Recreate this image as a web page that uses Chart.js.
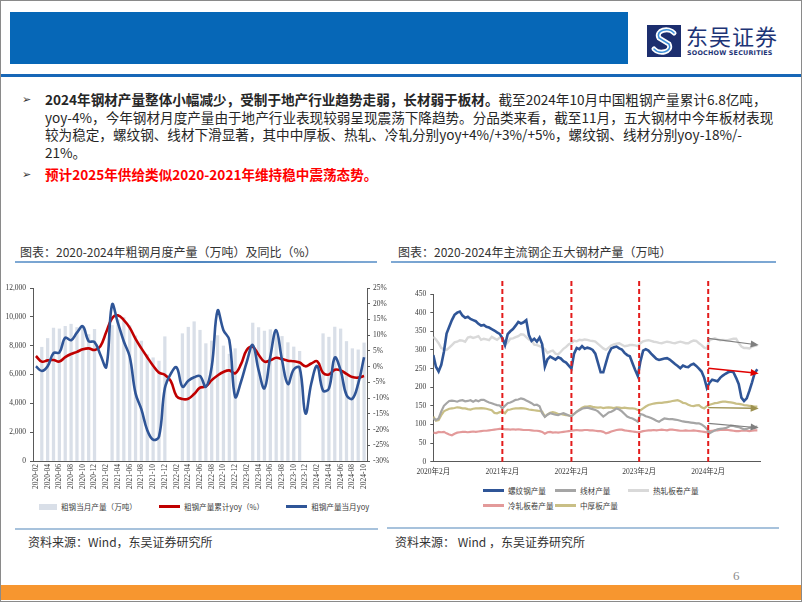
<!DOCTYPE html>
<html lang="zh-CN">
<head>
<meta charset="utf-8">
<title>粗钢及五大钢材产量</title>
<script src="https://cdn.jsdelivr.net/npm/chart.js@4.4.1/dist/chart.umd.min.js"></script>
<style>
  html, body { margin: 0; padding: 0; background: #fff; }
  body { width: 802px; height: 602px; position: relative; overflow: hidden;
         font-family: "Noto Sans CJK SC", "Noto Sans", sans-serif; color: #262626; }
  .abs { position: absolute; }
  #frame { left: 0; top: 0; width: 800px; height: 600px; border: 1px solid #8a8a8a; }
  #banner { left: 10px; top: 12px; width: 618px; height: 52px; background: #0667b7; }
  #rule { left: 1px; top: 74px; width: 800px; height: 3px; background: #1767b7; }
  #logoText { left: 686px; top: 22px; font-size: 22px; color: #1d3476; letter-spacing: 1px; line-height: 26px; }
  #logoSub { left: 687px; top: 49px; font-family: "DejaVu Sans", sans-serif; font-size: 6.4px; font-weight: bold; color: #1d3476; letter-spacing: 0.2px; }
  .para { left: 22px; width: 775px; font-size: 13.6px; line-height: 17.7px; white-space: nowrap; }
  .para .bullet { position: absolute; left: 0; top: 0; font-family: "DejaVu Sans", sans-serif; font-size: 11px; color: #333; }
  .para .txt { margin-left: 23px; }
  .red { color: #ff0000; font-weight: bold; }
  .title { font-size: 12px; color: #333; white-space: nowrap; }
  .titleRule { height: 2px; background: linear-gradient(to right, #7fa9d4, #4f86c0 50%, #7fa9d4); }
  .srcRule { height: 2px; background: #a7c2dc; }
  .src { font-size: 12px; color: #333; white-space: nowrap; }
  #pageNo { left: 733px; top: 568px; font-family: "Liberation Serif", serif; font-size: 13px; color: #8c8c8c; }
  #footer { left: 1px; top: 585px; width: 800px; height: 15px; background: #f7962f; }
  .legend { font-size: 7.6px; color: #404040; white-space: nowrap; }
  .legend .item { display: flex; align-items: center; }
  .legend .sw { display: inline-block; margin-right: 4px; }
  #legendLeft { left: 39px; top: 501px; display: flex; gap: 22px; }
  #legendRight { left: 483px; top: 485px; display: grid; grid-template-columns: 72px 73px auto; row-gap: 4px; }
</style>
</head>
<body>
<div id="frame" class="abs"></div>
<div id="banner" class="abs"></div>
<canvas id="logoMark" class="abs" width="34" height="32" style="left:647px;top:25px"></canvas>
<div id="logoText" class="abs">东吴证券</div>
<div id="logoSub" class="abs">SOOCHOW SECURITIES</div>
<div id="rule" class="abs"></div>

<div class="abs para" style="top:91px">
  <span class="bullet">➢</span>
  <div class="txt"><b>2024年钢材产量整体小幅减少，受制于地产行业趋势走弱，长材弱于板材。</b>截至2024年10月中国粗钢产量累计6.8亿吨，<br>yoy-4%，今年钢材月度产量由于地产行业表现较弱呈现震荡下降趋势。分品类来看，截至11月，五大钢材中今年板材表现<br>较为稳定，螺纹钢、线材下滑显著，其中中厚板、热轧、冷轧分别yoy+4%/+3%/+5%，螺纹钢、线材分别yoy-18%/-<br>21%。</div>
</div>
<div class="abs para" style="top:166px">
  <span class="bullet">➢</span>
  <div class="txt red">预计2025年供给类似2020-2021年维持稳中震荡态势。</div>
</div>

<div class="abs title" style="left:20px;top:243px">图表：2020-2024年粗钢月度产量（万吨）及同比（%）</div>
<div class="abs title" style="left:398px;top:243px">图表：2020-2024年主流钢企五大钢材产量（万吨）</div>
<div class="abs titleRule" style="left:15px;top:261px;width:362px"></div>
<div class="abs titleRule" style="left:391px;top:261px;width:385px"></div>

<canvas id="steelChart" class="abs" width="392" height="222" style="left:0;top:278px"></canvas>
<canvas id="productChart" class="abs" width="408" height="202" style="left:392px;top:278px"></canvas>
<div id="legendLeft" class="abs legend"></div>
<div id="legendRight" class="abs legend"></div>

<div class="abs srcRule" style="left:15px;top:528px;width:363px"></div>
<div class="abs srcRule" style="left:387px;top:527px;width:392px"></div>
<div class="abs src" style="left:28px;top:533px">资料来源：Wind，东吴证券研究所</div>
<div class="abs src" style="left:395px;top:533px">资料来源： Wind ，东吴证券研究所</div>
<div id="pageNo" class="abs">6</div>
<div id="footer" class="abs"></div>

<script>
// ---- left chart: crude steel monthly output and yoy ----
const months = [
  "2020-02", "2020-03", "2020-04", "2020-05", "2020-06", "2020-07", "2020-08", "2020-09", "2020-10", "2020-11", "2020-12",
  "2021-01", "2021-02", "2021-03", "2021-04", "2021-05", "2021-06", "2021-07", "2021-08", "2021-09", "2021-10", "2021-11", "2021-12",
  "2022-01", "2022-02", "2022-03", "2022-04", "2022-05", "2022-06", "2022-07", "2022-08", "2022-09", "2022-10", "2022-11", "2022-12",
  "2023-01", "2023-02", "2023-03", "2023-04", "2023-05", "2023-06", "2023-07", "2023-08", "2023-09", "2023-10", "2023-11", "2023-12",
  "2024-01", "2024-02", "2024-03", "2024-04", "2024-05", "2024-06", "2024-07", "2024-08", "2024-09", "2024-10"
];
// 万吨, Jan/Feb not reported separately
const monthlyOutput = [
  null, 7890, 8500, 9220, 9160, 9340, 9490, 9260, 9220, 8770, 9130,
  null, null, 9400, 9790, 9950, 9390, 8680, 8320, 7380, 7160, 6930, 8620,
  null, null, 8830, 9280, 9660, 9070, 8140, 8330, 8700, 7980, 7410, 7790,
  null, null, 9570, 9260, 9010, 9110, 9080, 8640, 8210, 7910, 7610, null,
  null, null, 8830, 8590, 9290, 9160, 8290, 7790, 7710, 8190
];
// cumulative yoy, %
const cumulativeYoy = [
  3.4, 1.6, 2.0, 2.1, 1.6, 3.0, 4.0, 4.7, 5.5, 5.8, 5.3,
  6.5, 11.0, 15.4, 16.3, 14.8, 12.4, 8.8, 5.8, 3.0, 0.3, -1.9, -2.6,
  -4.5, -9.4, -10.3, -10.2, -8.7, -6.7, -6.3, -4.3, -2.8, -1.7, -1.2, -2.1,
  0.8, 5.4, 6.3, 3.8, 1.6, 2.0, 2.8, 2.4, 1.9, 1.7, 1.3, 0.1,
  1.0, 1.7, -2.0, -2.5, -1.0, -1.2, -2.3, -3.3, -3.5, -3.0
];
// monthly yoy, %
const monthlyYoy = [
  0.1, -1.4, 0.1, 4.3, 4.5, 9.2, 8.4, 10.8, 12.8, 8.1, 7.8,
  3.8, -0.1, 19.7, 13.8, 8.0, 3.2, -8.5, -13.6, -20.2, -23.2, -22.3, -6.9,
  -2.3, -0.2, -6.4, -4.5, -3.4, -3.0, -6.4, 0.0, 17.8, 11.6, 8.5, -9.6,
  -4.8, 1.6, 6.9, -1.1, -6.9, 3.2, 11.6, 2.1, -5.5, -0.9, -0.3, -14.9,
  -5.3, 0.2, -7.6, -7.0, 2.9, -1.2, -9.0, -10.2, -5.4, 3.0
];

// ---- right chart: five major steel products, sampled every 2 weeks from Feb 2020 ----
const weekStep = 2;
const yearTicks = [0, 52, 104, 155, 207];
const yearTickLabels = ["2020年2月", "2021年2月", "2022年2月", "2023年2月", "2024年2月"];
const rebar = [
  286, 255, 242, 260, 295, 344, 362, 380, 394, 400,
  403, 392, 386, 389, 383, 380, 377, 370, 365, 367,
  362, 360, 356, 352, 347, 343, 332, 313, 342, 350,
  356, 365, 375, 371, 374, 380, 340, 324, 330, 322,
  333, 315, 255, 275, 282, 278, 274, 280, 277, 270,
  266, 258, 250, 290, 305, 302, 310, 303, 306, 304,
  300, 290, 265, 240, 240, 265, 290, 304, 307, 309,
  304, 301, 292, 286, 283, 264, 246, 230, 270, 298,
  302, 298, 290, 283, 276, 273, 275, 277, 278, 274,
  268, 262, 257, 251, 258, 255, 254, 260, 263, 257,
  250, 242, 225, 198, 212, 220, 218, 216, 225, 231,
  236, 240, 242, 240, 225, 208, 172, 163, 170, 190,
  213, 238, 248
];
const wireRod = [
  116, 112, 116, 135, 150, 157, 163, 164, 163, 161,
  164, 165, 162, 163, 165, 161, 165, 162, 166, 166,
  162, 159, 157, 154, 152, 151, 143, 150, 157, 159,
  162, 166, 167, 170, 168, 164, 161, 157, 152, 153,
  149, 130, 120, 126, 130, 128, 126, 125, 128, 130,
  127, 124, 122, 128, 134, 138, 142, 144, 145, 143,
  141, 139, 135, 128, 121, 126, 132, 134, 138, 143,
  140, 135, 128, 121, 118, 116, 112, 107, 128, 126,
  122, 120, 117, 114, 110, 107, 112, 116, 115, 114,
  114, 113, 112, 110, 108, 107, 106, 105, 104, 103,
  103, 100, 95, 88, 76, 80, 84, 87, 88, 89,
  90, 93, 97, 96, 94, 93, 90, 87, 88, 91,
  92, 93, 94
];
const hotRolled = [
  335, 328, 318, 305, 302, 300, 306, 313, 320, 322,
  326, 325, 322, 333, 335, 332, 334, 337, 327, 330,
  328, 326, 335, 331, 327, 333, 330, 313, 320, 330,
  331, 334, 337, 342, 341, 334, 328, 325, 314, 313,
  310, 307, 302, 292, 296, 298, 290, 288, 295, 303,
  308, 315, 318, 325, 323, 327, 326, 328, 327, 325,
  324, 322, 316, 310, 304, 300, 306, 312, 315, 317,
  318, 314, 310, 311, 313, 313, 312, 310, 318, 323,
  325, 326, 324, 322, 321, 319, 318, 320, 322, 321,
  319, 318, 320, 322, 320, 318, 318, 322, 325, 324,
  318, 313, 306, 304, 326, 329, 331, 328, 326, 327,
  326, 326, 328, 330, 330, 318, 309, 305, 305, 304,
  309, 311, 312
];
const coldRolled = [
  78, 77, 80, 79, 80, 76, 73, 71, 75, 78,
  79, 80, 80, 79, 80, 81, 80, 81, 82, 83,
  83, 84, 85, 86, 87, 88, 88, 87, 87, 86,
  87, 86, 87, 86, 85, 85, 85, 84, 83, 83,
  82, 80, 75, 79, 80, 78, 79, 78, 79, 80,
  81, 82, 83, 84, 85, 84, 84, 85, 85, 84,
  84, 83, 82, 82, 80, 76, 78, 81, 83, 85,
  86, 86, 84, 83, 82, 81, 80, 79, 80, 82,
  83, 84, 84, 85, 84, 85, 86, 85, 84, 86,
  86, 85, 84, 83, 83, 84, 83, 83, 84, 83,
  82, 81, 80, 79, 82, 83, 84, 84, 85, 85,
  86, 85, 84, 83, 82, 82, 83, 84, 83, 82,
  83, 84, 84
];
const mediumPlate = [
  121, 110, 112, 125, 135, 139, 142, 143, 144, 146,
  145, 143, 143, 141, 140, 142, 143, 143, 144, 143,
  142, 140, 138, 131, 130, 133, 134, 130, 139, 140,
  142, 143, 143, 144, 143, 142, 140, 139, 138, 137,
  136, 134, 121, 127, 131, 133, 131, 128, 128, 126,
  125, 124, 123, 128, 134, 140, 145, 148, 148, 149,
  147, 146, 145, 146, 144, 145, 146, 145, 144, 146,
  145, 144, 145, 144, 143, 143, 142, 139, 138, 143,
  148, 152, 154, 156, 157, 158, 158, 159, 160, 161,
  163, 164, 165, 162, 158, 157, 153, 150, 149, 151,
  152, 146, 143, 149, 153, 155, 157, 158, 160, 161,
  161, 160, 159, 158, 156, 155, 154, 152, 151, 150,
  149, 148, 148
];
// trend arrows drawn in 2024, in data units [week, 万吨]
const trendArrows = [
  { from: [207, 331], to: [245, 313], color: "#7f7f7f", width: 1.2 },
  { from: [207, 251], to: [245, 237], color: "#e00000", width: 1.5 },
  { from: [207, 145], to: [245, 143], color: "#9c9150", width: 1.4 },
  { from: [207, 103], to: [245, 91], color: "#7f7f7f", width: 1.2 }
];

Chart.defaults.font.family = "'Liberation Serif', 'Noto Sans CJK SC', serif";
Chart.defaults.font.size = 7.5;
Chart.defaults.color = "#3a3a3a";

function toPoints(values) {
  return values.map((v, i) => ({ x: i * weekStep, y: v }));
}

const yearMarksPlugin = {
  id: "yearMarks",
  afterDatasetsDraw(chart) {
    const { ctx, chartArea, scales } = chart;
    ctx.save();
    ctx.strokeStyle = "#e31b1b";
    ctx.lineWidth = 2;
    ctx.setLineDash([5, 3]);
    yearTicks.slice(1).forEach(function (w) {
      const x = scales.x.getPixelForValue(w);
      ctx.beginPath();
      ctx.moveTo(x, chartArea.top - 13);
      ctx.lineTo(x, chartArea.bottom);
      ctx.stroke();
    });
    ctx.setLineDash([]);
    trendArrows.forEach(function (a) {
      const x1 = scales.x.getPixelForValue(a.from[0]), y1 = scales.y.getPixelForValue(a.from[1]);
      const x2 = scales.x.getPixelForValue(a.to[0]), y2 = scales.y.getPixelForValue(a.to[1]);
      const ang = Math.atan2(y2 - y1, x2 - x1);
      const c = Math.cos(ang), s = Math.sin(ang);
      ctx.strokeStyle = a.color;
      ctx.fillStyle = a.color;
      ctx.lineWidth = a.width;
      ctx.beginPath();
      ctx.moveTo(x1, y1);
      ctx.lineTo(x2 - 6 * c, y2 - 6 * s);
      ctx.stroke();
      ctx.beginPath();
      ctx.moveTo(x2, y2);
      ctx.lineTo(x2 - 8 * c + 3.5 * s, y2 - 8 * s - 3.5 * c);
      ctx.lineTo(x2 - 8 * c - 3.5 * s, y2 - 8 * s + 3.5 * c);
      ctx.closePath();
      ctx.fill();
    });
    ctx.restore();
  }
};

const axisColor = "#595959";

const steelChart = new Chart(document.getElementById("steelChart"), {
  type: "bar",
  data: {
    labels: months,
    datasets: [
      { label: "粗钢当月产量（万吨）", data: monthlyOutput, backgroundColor: "#d9dfe8", barThickness: 2.6, yAxisID: "y", order: 3 },
      { type: "line", label: "粗钢产量累计yoy（%）", data: cumulativeYoy, borderColor: "#c00000", backgroundColor: "#c00000",
        borderWidth: 2.6, pointRadius: 0, tension: 0.4, yAxisID: "y1", order: 2 },
      { type: "line", label: "粗钢产量当月yoy", data: monthlyYoy, borderColor: "#2f5597", backgroundColor: "#2f5597",
        borderWidth: 2.6, pointRadius: 0, tension: 0.4, yAxisID: "y1", order: 1 }
    ]
  },
  options: {
    responsive: false,
    animation: false,
    layout: { padding: { top: 10, right: 0, bottom: 0, left: 0 } },
    plugins: { legend: { display: false }, tooltip: { enabled: false } },
    scales: {
      x: {
        grid: { display: false, drawTicks: false },
        border: { color: axisColor },
        ticks: {
          autoSkip: false, minRotation: 90, maxRotation: 90, padding: 3,
          callback: function (v, i) { return i % 2 === 0 ? this.getLabelForValue(v) : ""; }
        },
        afterFit: function (s) { s.height = 39; }
      },
      y: {
        position: "left", min: 0, max: 12000,
        ticks: { stepSize: 2000, padding: 4, callback: v => v.toLocaleString("en-US") },
        grid: { drawOnChartArea: false, tickLength: 3, color: axisColor },
        border: { color: axisColor },
        afterFit: function (s) { s.width = 33; }
      },
      y1: {
        position: "right", min: -30, max: 25,
        ticks: { stepSize: 5, padding: 3, callback: v => v + "%" },
        grid: { drawOnChartArea: false, tickLength: 3, color: axisColor },
        border: { color: axisColor },
        afterFit: function (s) { s.width = 25; }
      }
    }
  }
});

const productChart = new Chart(document.getElementById("productChart"), {
  type: "line",
  data: {
    datasets: [
      { label: "螺纹钢产量", data: toPoints(rebar), borderColor: "#2f5597", borderWidth: 2.6 },
      { label: "线材产量", data: toPoints(wireRod), borderColor: "#a5a5a5", borderWidth: 2.2 },
      { label: "热轧板卷产量", data: toPoints(hotRolled), borderColor: "#d9d9d9", borderWidth: 2.4 },
      { label: "冷轧板卷产量", data: toPoints(coldRolled), borderColor: "#e39a9a", borderWidth: 2.2 },
      { label: "中厚板产量", data: toPoints(mediumPlate), borderColor: "#c9bf86", borderWidth: 2.2 }
    ]
  },
  options: {
    responsive: false,
    animation: false,
    elements: { point: { radius: 0 }, line: { tension: 0 } },
    layout: { padding: { top: 16, right: 40, bottom: 0, left: 0 } },
    plugins: { legend: { display: false }, tooltip: { enabled: false } },
    scales: {
      x: {
        type: "linear", min: 0, max: 246,
        afterBuildTicks: function (s) { s.ticks = yearTicks.map(v => ({ value: v })); },
        ticks: { padding: 6, autoSkip: false, maxRotation: 0, callback: (v, i) => yearTickLabels[i] },
        grid: { display: false, drawTicks: false },
        border: { color: axisColor },
        afterFit: function (s) { s.height = 18.3; }
      },
      y: {
        min: 0, max: 450,
        ticks: { stepSize: 50, padding: 4 },
        grid: { drawOnChartArea: false, tickLength: 3, color: axisColor },
        border: { color: axisColor },
        afterFit: function (s) { s.width = 41.3; }
      }
    }
  },
  plugins: [yearMarksPlugin]
});

function buildLegend(chart, el) {
  chart.data.datasets.forEach(function (ds) {
    const item = document.createElement("div");
    item.className = "item";
    const sw = document.createElement("span");
    sw.className = "sw";
    const isBar = (ds.type || chart.config.type) === "bar";
    sw.style.width = isBar ? "18px" : "21px";
    sw.style.height = isBar ? "6px" : (ds.borderWidth > 2.5 ? "3.5px" : "3px");
    sw.style.background = isBar ? ds.backgroundColor : ds.borderColor;
    const tx = document.createElement("span");
    tx.textContent = ds.label;
    item.appendChild(sw);
    item.appendChild(tx);
    el.appendChild(item);
  });
}
buildLegend(steelChart, document.getElementById("legendLeft"));
buildLegend(productChart, document.getElementById("legendRight"));

// logo mark
(function () {
  const ctx = document.getElementById("logoMark").getContext("2d");
  ctx.fillStyle = "#1c2e6e";
  ctx.fillRect(0, 0, 34, 32);
  ctx.lineCap = "round";
  ctx.lineWidth = 5;
  ctx.strokeStyle = "#ffffff";
  ctx.beginPath();
  ctx.moveTo(27, 8);
  ctx.bezierCurveTo(22, 2, 8, 5, 12, 13);
  ctx.lineTo(22, 19);
  ctx.bezierCurveTo(26, 27, 12, 30, 7, 24);
  ctx.stroke();
  ctx.lineWidth = 1.6;
  ctx.strokeStyle = "#3d8fd8";
  ctx.stroke();
})();
</script>
</body>
</html>
